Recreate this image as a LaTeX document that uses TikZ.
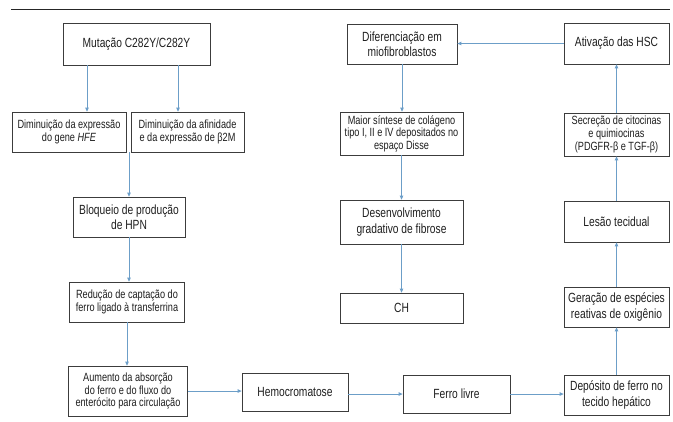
\documentclass[tikz,border=0pt]{standalone}
\usepackage{fontspec}
\setmainfont{Liberation Sans}[FakeStretch=0.77]
\usetikzlibrary{arrows.meta}
\definecolor{arrowblue}{RGB}{108,158,200}
\definecolor{boxgray}{RGB}{60,60,60}
\definecolor{txt}{RGB}{30,30,30}
\tikzset{
  box/.style={draw=boxgray, line width=0.8pt, align=center, inner sep=1pt, text=txt},
  big/.style={font=\fontsize{13.3}{15.3}\selectfont},
  small/.style={font=\fontsize{11.9}{12.6}\selectfont},
  arr/.style={draw=arrowblue, line width=0.9pt, -{Triangle[length=4pt,width=3.6pt]}},
}
\begin{document}
\begin{tikzpicture}[x=1pt,y=-1pt]
\useasboundingbox (0,0) rectangle (673,421);
\draw[line width=1.5pt, black!85] (11,9.5) coordinate (r1) -- (670,9.5) coordinate (r2);

% left column
\node[box,big,minimum width=147pt,minimum height=42pt] (A) at (136.5,44) {Mutação C282Y/C282Y};
\node[box,small,minimum width=114pt,minimum height=40pt] (B) at (69,132) {Diminuição da expressão\\do gene \textit{HFE}};
\node[box,small,minimum width=113pt,minimum height=40pt] (C) at (187.5,132) {Diminuição da afinidade\\e da expressão de β2M};
\node[box,big,minimum width=112pt,minimum height=40pt] (D) at (129,217) {Bloqueio de produção\\de HPN};
\node[box,small,minimum width=115pt,minimum height=40pt] (E) at (127,302) {Redução de captação do\\ferro ligado à transferrina};
\node[box,small,minimum width=119pt,minimum height=50pt] (F) at (128,391) {Aumento da absorção\\do ferro e do fluxo do\\enterócito para circulação};

% bottom row
\node[box,big,minimum width=106pt,minimum height=38pt] (G) at (295,392) {Hemocromatose};
\node[box,big,minimum width=107pt,minimum height=38pt] (H) at (456.5,394) {Ferro livre};
\node[box,big,minimum width=105pt,minimum height=40pt] (Dep) at (616.5,395) {Depósito de ferro no\\tecido hepático};

% right column
\node[box,big,minimum width=105pt,minimum height=40pt] (Ger) at (616.5,307) {Geração de espécies\\reativas de oxigênio};
\node[box,big,minimum width=105pt,minimum height=41pt] (Les) at (616.5,221.5) {Lesão tecidual};
\node[box,small,minimum width=105pt,minimum height=43pt] (Sec) at (616.5,134.5) {Secreção de citocinas\\e quimiocinas\\(PDGFR-β e TGF-β)};
\node[box,big,minimum width=105pt,minimum height=41pt] (Ati) at (616.5,43.5) {Ativação das HSC};

% middle column
\node[box,big,minimum width=110pt,minimum height=40pt] (Dif) at (402,44) {Diferenciação em\\miofibroblastos};
\node[box,small,minimum width=123pt,minimum height=43pt] (Mai) at (401.5,133.5) {Maior síntese de colágeno\\tipo I, II e IV depositados no\\espaço Disse};
\node[box,big,minimum width=123pt,minimum height=44pt] (Des) at (401.5,222) {Desenvolvimento\\gradativo de fibrose};
\node[box,big,minimum width=123pt,minimum height=30pt] (CH) at (401.5,308) {CH};

% connectors
\draw[arr] ([xshift=18pt]B.north |- A.south) -- ([xshift=18pt]B.north);
\draw[arr] ([xshift=-9.5pt]C.north |- A.south) -- ([xshift=-9.5pt]C.north);
\draw[arr] (D.north |- B.south) -- (D.north);
\draw[arr] (D.south) -- (D.south |- E.north);
\draw[arr] (E.south) -- (E.south |- F.north);
\draw[arr] (F.east) -- (F.east -| G.west);
\draw[arr] (H.west -| G.east) -- (H.west);
\draw[arr] (H.east) -- (H.east -| Dep.west);
\draw[arr] (Dep.north) -- (Ger.south);
\draw[arr] (Ger.north) -- (Les.south);
\draw[arr] (Les.north) -- (Sec.south);
\draw[arr] (Sec.north) -- (Ati.south);
\draw[arr] (Ati.west) -- (Ati.west -| Dif.east);
\draw[arr] (Dif.south) -- (Dif.south |- Mai.north);
\draw[arr] (Mai.south) -- (Des.north);
\draw[arr] (Des.south) -- (CH.north);
\end{tikzpicture}
\end{document}
